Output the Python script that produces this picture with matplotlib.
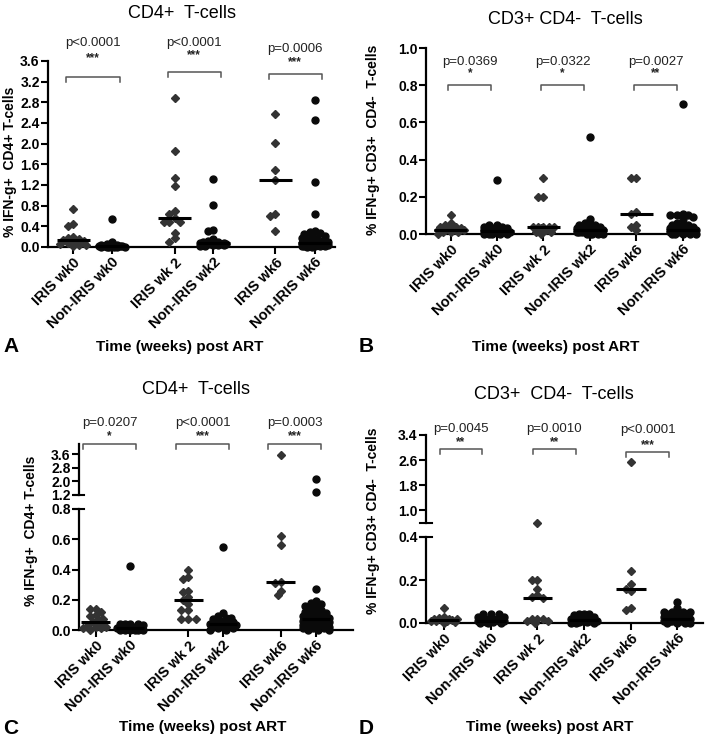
import matplotlib
matplotlib.use('Agg')
import matplotlib.pyplot as plt
import numpy as np

plt.rcParams['font.family'] = ['Liberation Sans', 'DejaVu Sans']

# group labels
labels = ['IRIS wk0', 'Non-IRIS wk0', 'IRIS wk 2', 'Non-IRIS wk2', 'IRIS wk6', 'Non-IRIS wk6']

# panel A - CD4+ T-cells
a_iris0 = [0.74, 0.44, 0.40, 0.20, 0.17, 0.15, 0.14, 0.12, 0.10, 0.08, 0.05, 0.04, 0.03, 0.02]
a_non0 = [0.55, 0.10, 0.05, 0.04, 0.03, 0.02, 0.02, 0.01, 0.01, 0.01, 0.0, 0.0, 0.0, 0.0, 0.0, 0.0]
a_iris2 = [2.89, 1.85, 1.33, 1.19, 0.70, 0.64, 0.57, 0.49, 0.49, 0.49, 0.28, 0.17, 0.10]
a_non2 = [1.31, 0.81, 0.33, 0.30, 0.15, 0.12, 0.10, 0.09, 0.08, 0.08, 0.07, 0.07, 0.06, 0.06,
          0.05, 0.05, 0.05, 0.04, 0.04, 0.03, 0.03, 0.02, 0.02]
a_iris6 = [2.57, 2.02, 1.49, 1.30, 0.64, 0.60, 0.30]
a_non6 = [2.85, 2.45, 1.25, 0.63, 0.30, 0.29, 0.27, 0.25, 0.22, 0.20, 0.18, 0.18, 0.15, 0.12,
          0.10, 0.09, 0.08, 0.08, 0.07, 0.06, 0.05, 0.05, 0.04, 0.03, 0.03, 0.02, 0.02, 0.02,
          0.01, 0.01, 0.01, 0.0, 0.0]
a_p = ['p<0.0001', 'p<0.0001', 'p=0.0006']
a_stars = ['***', '***', '***']

# panel B - CD3+ CD4- T-cells
b_iris0 = [0.10, 0.06, 0.05, 0.04, 0.04, 0.03, 0.03, 0.02, 0.02, 0.02, 0.02, 0.01, 0.01, 0.01, 0.0]
b_non0 = [0.29, 0.05, 0.05, 0.04, 0.04, 0.03, 0.03, 0.02, 0.02, 0.02, 0.01, 0.01, 0.01, 0.01,
          0.01, 0.0, 0.0, 0.0, 0.0, 0.0]
b_iris2 = [0.30, 0.20, 0.20, 0.04, 0.04, 0.04, 0.035, 0.035, 0.03, 0.02, 0.01, 0.01, 0.0]
b_non2 = [0.52, 0.08, 0.06, 0.05, 0.05, 0.05, 0.04, 0.04, 0.03, 0.03, 0.03, 0.02, 0.02, 0.02,
          0.02, 0.01, 0.01, 0.01, 0.01, 0.01, 0.01, 0.01, 0.01, 0.01, 0.0, 0.0, 0.0, 0.0, 0.0]
b_iris6 = [0.30, 0.30, 0.12, 0.11, 0.05, 0.04, 0.02]
b_non6 = [0.70, 0.11, 0.10, 0.10, 0.10, 0.09, 0.08, 0.06, 0.05, 0.05, 0.05, 0.04, 0.04, 0.03,
          0.03, 0.03, 0.02, 0.02, 0.02, 0.02, 0.02, 0.01, 0.01, 0.01, 0.01, 0.01, 0.01, 0.01,
          0.0, 0.0, 0.0, 0.0, 0.0]
b_p = ['p=0.0369', 'p=0.0322', 'p=0.0027']
b_stars = ['*', '*', '**']

# panel C - CD4+ T-cells (broken axis)
c_iris0 = [0.14, 0.14, 0.12, 0.10, 0.09, 0.07, 0.07, 0.05, 0.04, 0.03, 0.02, 0.02, 0.01, 0.01, 0.0]
c_non0 = [0.42, 0.04, 0.04, 0.04, 0.04, 0.03, 0.02, 0.02, 0.01, 0.01, 0.01, 0.0, 0.0, 0.0, 0.0,
          0.0, 0.0]
c_iris2 = [0.40, 0.35, 0.34, 0.26, 0.25, 0.22, 0.20, 0.17, 0.13, 0.13, 0.07, 0.07, 0.07]
c_non2 = [0.55, 0.11, 0.09, 0.08, 0.08, 0.07, 0.06, 0.05, 0.05, 0.04, 0.04, 0.04, 0.03, 0.03,
          0.03, 0.03, 0.02, 0.02, 0.02, 0.01, 0.01, 0.0, 0.0]
c_iris6 = [3.55, 0.62, 0.56, 0.32, 0.31, 0.26, 0.23]
c_non6 = [2.14, 1.39, 0.27, 0.19, 0.18, 0.17, 0.16, 0.15, 0.14, 0.13, 0.12, 0.11, 0.11, 0.10,
          0.10, 0.09, 0.08, 0.08, 0.07, 0.07, 0.06, 0.06, 0.05, 0.05, 0.04, 0.04, 0.03, 0.03,
          0.02, 0.02, 0.02, 0.01, 0.01, 0.01, 0.0, 0.0, 0.0]
c_p = ['p=0.0207', 'p<0.0001', 'p=0.0003']
c_stars = ['*', '***', '***']

# panel D - CD3+ CD4- T-cells (broken axis)
d_iris0 = [0.07, 0.03, 0.025, 0.02, 0.02, 0.02, 0.015, 0.015, 0.01, 0.01, 0.01, 0.005, 0.0]
d_non0 = [0.04, 0.04, 0.04, 0.03, 0.03, 0.02, 0.02, 0.02, 0.01, 0.01, 0.01, 0.01, 0.005, 0.005,
          0.0, 0.0, 0.0]
d_iris2 = [0.60, 0.20, 0.20, 0.16, 0.13, 0.12, 0.115, 0.02, 0.02, 0.02, 0.01, 0.01, 0.0]
d_non2 = [0.04, 0.04, 0.04, 0.035, 0.03, 0.03, 0.02, 0.02, 0.02, 0.02, 0.01, 0.01, 0.01, 0.01,
          0.01, 0.005, 0.005, 0.0, 0.0, 0.0]
d_iris6 = [2.55, 0.24, 0.18, 0.16, 0.15, 0.07, 0.06]
d_non6 = [0.10, 0.07, 0.05, 0.05, 0.05, 0.05, 0.04, 0.04, 0.04, 0.03, 0.03, 0.03, 0.02, 0.02,
          0.02, 0.02, 0.02, 0.01, 0.01, 0.01, 0.01, 0.01, 0.01, 0.0, 0.0, 0.0, 0.0]
d_p = ['p=0.0045', 'p=0.0010', 'p<0.0001']
d_stars = ['**', '**', '***']

W, H = 713, 750
fig = plt.figure(figsize=(W / 100, H / 100), dpi=100)


def box(l, r, b, t):
    return [l / W, 1 - b / H, (r - l) / W, (b - t) / H]


def style(ax, ylim, yticks, xlim, bottom=True):
    ax.set_xlim(*xlim)
    ax.set_ylim(*ylim)
    ax.set_yticks(yticks)
    ax.set_yticklabels(['%.1f' % t for t in yticks], fontweight='bold', fontsize=10)
    ax.spines['top'].set_visible(False)
    ax.spines['right'].set_visible(False)
    ax.spines['left'].set_linewidth(1.6)
    ax.spines['bottom'].set_linewidth(1.6)
    ax.tick_params(direction='out', length=5, width=1.5, pad=1)
    ax.patch.set_alpha(0)
    if not bottom:
        ax.spines['bottom'].set_visible(False)
        ax.set_xticks([])


def swarm(ax, x0, vals, d=5.2, maxw=15):
    # spread overlapping points sideways, GraphPad style, within +-maxw pixels
    T = ax.transData
    placed = []
    xs = []
    step = d / 2
    n = int(maxw // step)
    for v in vals:
        px, py = T.transform((x0, v))
        cands = [px]
        for k in range(1, n + 1):
            cands += [px - k * step, px + k * step]
        best, score = px, -1
        for c in cands:
            md = min([np.hypot(c - qx, py - qy) for qx, qy in placed] or [1e9])
            if md >= d:
                best = c
                break
            if md > score:
                best, score = c, md
        placed.append((best, py))
        xs.append(T.inverted().transform((best, py))[0])
    return xs


def draw_points(axes, pos, groups, half):
    for i, (x0, vals) in enumerate(zip(pos, groups)):
        mk = 'D' if i % 2 == 0 else 'o'
        col = '#333333' if i % 2 == 0 else '#0a0a0a'
        ms = 4.2 if i % 2 == 0 else 5.0
        for ax in axes:
            lo, hi = ax.get_ylim()
            sel = sorted([v for v in vals if lo - 1e-9 <= v <= hi + 1e-9], reverse=True)
            if not sel:
                continue
            xs = swarm(ax, x0, sel)
            ax.plot(xs, sel, mk, color=col, ms=ms, mec=col, clip_on=False, zorder=3)
        med = np.median(vals)
        for ax in axes:
            lo, hi = ax.get_ylim()
            if lo <= med <= hi:
                ax.plot([x0 - half, x0 + half], [med, med], color='black', lw=2.2,
                        solid_capstyle='butt', zorder=4, clip_on=False)


def px_dy(ax, px):
    T = ax.transData
    return px / (T.transform((0, 1))[1] - T.transform((0, 0))[1])


def brackets(ax, pos, lo, hi, ys, sy, py, pvals, stars):
    for k in range(3):
        x1 = pos[2 * k] + lo
        x2 = pos[2 * k] + hi
        y = ys[k]
        dy = px_dy(ax, 5)
        ax.plot([x1, x1, x2, x2], [y - dy, y, y, y - dy], color='#555555', lw=1.1,
                clip_on=False)
        xc = (x1 + x2) / 2
        ax.text(xc, sy[k], stars[k], ha='center', va='center', fontsize=8.5,
                fontweight='bold', color='#222222', clip_on=False)
        ax.text(xc, py[k], pvals[k], ha='center', va='center', fontsize=9.5,
                color='#222222', clip_on=False)


def xlabels(ax, pos):
    ax.set_xticks(pos)
    ax.set_xticklabels(labels, rotation=45, ha='right', rotation_mode='anchor',
                       fontweight='bold', fontsize=10.5)


def cap(ax, where):
    # short horizontal end on a broken y axis
    y = 0 if where == 'bottom' else 1
    ax.plot([-0.02, 0.02], [y, y], transform=ax.transAxes, color='black', lw=1.5,
            clip_on=False)


def ftext(x, y, s, **kw):
    fig.text(x / W, 1 - y / H, s, **kw)


# ---- panel A
axA = fig.add_axes(box(48, 335, 247, 61))
posA = [0, 1, 2.63, 3.63, 5.25, 6.27]
style(axA, (0, 3.6), np.arange(0, 3.61, 0.4), (-0.66, 6.797))
xlabels(axA, posA)
draw_points([axA], posA, [a_iris0, a_non0, a_iris2, a_non2, a_iris6, a_non6], 0.43)
brackets(axA, posA, -0.18, 1.2, [3.29, 3.38, 3.35], [3.66, 3.71, 3.58], [3.95, 3.95, 3.83],
         a_p, a_stars)

# ---- panel B
axB = fig.add_axes(box(426, 698, 234, 48))
posB = [0, 1, 2, 3, 4, 5]
style(axB, (0, 1.0), np.arange(0, 1.01, 0.2), (-0.53, 5.33))
xlabels(axB, posB)
draw_points([axB], posB, [b_iris0, b_non0, b_iris2, b_non2, b_iris6, b_non6], 0.36)
brackets(axB, posB, -0.05, 0.88, [0.80] * 3, [0.865] * 3, [0.925] * 3, b_p, b_stars)

# ---- panel C
axC = fig.add_axes(box(79, 353, 630, 509))
axC2 = fig.add_axes(box(79, 353, 495, 444))
posC = [0, 1, 2.69, 3.69, 5.36, 6.38]
style(axC, (0, 0.8), np.arange(0, 0.81, 0.2), (-0.48, 7.46))
style(axC2, (1.2, 4.2), [1.2, 2.0, 2.8, 3.6], (-0.48, 7.46), bottom=False)
cap(axC, 'top')
cap(axC2, 'bottom')
xlabels(axC, posC)
draw_points([axC, axC2], posC, [c_iris0, c_non0, c_iris2, c_non2, c_iris6, c_non6], 0.41)
brackets(axC2, posC, -0.35, 1.17, [4.2] * 3, [4.67] * 3, [5.45] * 3, c_p, c_stars)

# ---- panel D
axD = fig.add_axes(box(426, 703, 623, 537))
axD2 = fig.add_axes(box(426, 703, 523, 435))
posD = [0, 1, 2, 3, 4, 5]
style(axD, (0, 0.4), [0.0, 0.2, 0.4], (-0.39, 5.55))
style(axD2, (0.6, 3.4), [1.0, 1.8, 2.6, 3.4], (-0.39, 5.55), bottom=False)
cap(axD, 'top')
cap(axD2, 'bottom')
xlabels(axD, posD)
draw_points([axD, axD2], posD, [d_iris0, d_non0, d_iris2, d_non2, d_iris6, d_non6], 0.32)
brackets(axD2, posD, -0.1, 0.82, [2.95, 2.95, 2.85], [3.17, 3.17, 3.07], [3.6, 3.6, 3.55],
         d_p, d_stars)

# titles, axis labels, panel letters
ttl = dict(ha='center', va='center', fontsize=13)
ftext(182, 13, 'CD4+  T-cells', **ttl)
ftext(565, 20, 'CD3+ CD4-  T-cells', **ttl)
ftext(196, 390, 'CD4+  T-cells', **ttl)
ftext(554, 395, 'CD3+  CD4-  T-cells', **ttl)

xl = dict(ha='center', va='center', fontsize=11, fontweight='bold')
ftext(180, 347, 'Time (weeks) post ART', **xl)
ftext(556, 347, 'Time (weeks) post ART', **xl)
ftext(203, 727, 'Time (weeks) post ART', **xl)
ftext(550, 727, 'Time (weeks) post ART', **xl)

yl = dict(ha='center', va='center', fontsize=10, fontweight='bold', rotation=90)
ftext(10, 162, '% IFN-g+  CD4+ T-cells', **yl)
ftext(373, 140, '% IFN-g+ CD3+  CD4-  T-cells', **yl)
ftext(31, 531, '% IFN-g+  CD4+ T-cells', **yl)
ftext(373, 521, '% IFN-g+ CD3+ CD4-  T-cells', **yl)

pl = dict(ha='center', va='center', fontsize=15, fontweight='bold')
ftext(11, 347, 'A', **pl)
ftext(366, 347, 'B', **pl)
ftext(11, 728, 'C', **pl)
ftext(366, 728, 'D', **pl)

fig.savefig('out.png', dpi=100)
